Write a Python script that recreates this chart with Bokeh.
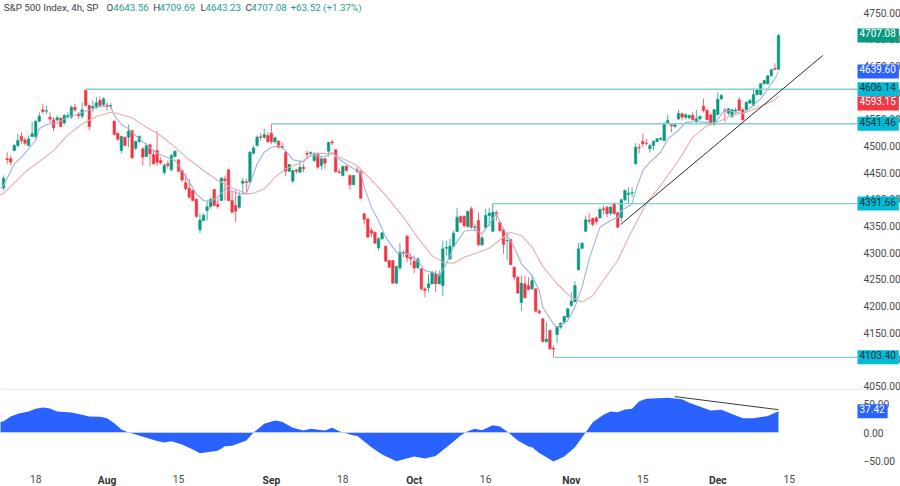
from bokeh.plotting import figure
from bokeh.layouts import column
from bokeh.models import ColumnDataSource, Range1d, FixedTicker, Label
from bokeh.embed import file_html
from bokeh.resources import INLINE

bar_start = -9
opens = [4421,4476,4476,4491.3,4500.6,4518,4511,4500.6,4517.5,
4517.5,4546.3,4567.5,4565,4553.8,4548.8,4548.8,4551.9,4543,4555,
4553.8,4572.5,4558.8,4555.6,4604,4575.6,4571.3,4573.8,4585,4577.5,
4576.3,4574.4,4546.3,4523.8,4491.3,4516.3,4516.3,4528.8,4495.6,4508,
4494.4,4480,4502,4483.8,4491.3,4472.5,4450,4466.3,4455,4480,
4473.8,4453.8,4431,4420.6,4416.3,4400,4342.5,4360,4378.8,4386.3,
4418,4390,4397.5,4438,4455,4397.5,4388,4385,4430,4432.5,
4432,4486,4500.6,4517,4516.3,4519.4,4523.8,4507.5,4508.8,4498.8,
4487.5,4452.5,4433.8,4455,4450.6,4460,4486,4486,4472.5,4485,
4463,4475.6,4490,4507.5,4492.5,4451.3,4444.4,4461.9,4444.4,4427.5,
4455,4452.5,4372.5,4363,4341.3,4338,4308.8,4325.6,4311.9,4285,
4285,4242.5,4271.3,4300,4330.6,4291.3,4283.8,4271.3,4269.4,4231.9,
4233.8,4241.3,4260,4241.3,4238,4308,4288,4311.3,4339.4,4367.5,
4367.5,4348.8,4381.9,4346.9,4360,4314.4,4346.3,4369.4,4340,4375,
4356.3,4342.5,4321.9,4324.4,4272.5,4253.8,4206.3,4241.3,4238,4231.9,
4231.9,4190,4175.6,4133,4153.8,4120.6,4146.3,4160,4169.4,4178.8,
4200.6,4208,4267.5,4307.5,4339.9,4360.9,4363.7,4365,4365.1,4382,
4384.9,4373.7,4392.4,4374.4,4365.6,4398.8,4408.8,4411.2,4466.3,4497.4,
4508.1,4505,4494.4,4500.6,4508.1,4512.4,4510,4543.8,4540,4536.3,
4550.3,4560,4553.7,4552.6,4557.4,4546.2,4550.7,4574.3,4566.3,4558.2,
4540,4558.8,4588.2,4567.2,4561.2,4555,4565.3,4586.3,4567.6,4567.6,
4580,4575.6,4596.3,4596.3,4616.3,4616.3,4631.3,4645,4643.56]

highs = [4444.4,4488,4481.9,4503.8,4522.5,4525.6,4516,4519.4,4544.4,
4547.5,4563,4578.8,4575.6,4563,4553.8,4556.9,4553.8,4560,4563,
4575.6,4578.8,4563,4581.9,4606.14,4577.5,4585,4591.3,4592.5,4591.3,
4581.9,4580,4547.5,4525.6,4519.4,4517.5,4540,4530,4510,4519.4,
4497.5,4505,4503.8,4491.3,4527.5,4478.8,4467.5,4472.5,4485,4491,
4475,4455,4447.5,4438,4418,4401,4372.5,4372.5,4397.5,4403.8,
4419.4,4400.6,4441,4444.4,4456.9,4416.3,4416.3,4413,4440,4438,
4490,4500.6,4519.4,4523.8,4532,4525.6,4541.46,4517.5,4511,4506.9,
4490,4466,4455,4456.9,4472.5,4466.3,4491,4490,4488,4488,
4478.8,4477.5,4507.5,4511.3,4493.8,4456.9,4463,4463,4446,4445.6,
4460,4453.8,4373.8,4365,4346.3,4339.4,4328.8,4338,4313,4286.3,
4286.3,4275,4317.5,4303.8,4333,4298.8,4294.4,4291.3,4270.6,4235,
4260,4266.3,4266.3,4266.3,4322.5,4322.5,4325.6,4341.3,4383.8,4369.4,
4369.4,4378.8,4386.3,4353.8,4375.6,4331.9,4381.9,4383.8,4391.66,4378.8,
4358.8,4344.4,4338,4325.6,4273.8,4255,4256.9,4256.9,4253.8,4256.9,
4233,4194.4,4177.5,4169.4,4155,4125.6,4162.5,4169.4,4181.3,4196.3,
4225.6,4246.3,4317.5,4319.3,4369.4,4373.7,4366.2,4367.5,4384.9,4388.1,
4388.1,4388.1,4393.8,4375.6,4401.3,4418,4421.9,4422.4,4504.9,4503.8,
4522.6,4513.2,4503.8,4510,4514.3,4516.2,4543.8,4558.8,4541.3,4542.4,
4567.6,4562.5,4560.6,4558.8,4563.1,4567.6,4556.9,4588.2,4570,4560,
4569.4,4600.6,4597.6,4571.3,4571.3,4569.4,4571.3,4591.2,4569.4,4583.1,
4588.2,4606.9,4606.9,4617.4,4623.8,4632.4,4644.4,4654.9,4709.69]

lows = [4416.3,4466,4463,4490,4497.5,4503.8,4500.6,4498.8,4516.3,
4513,4544.4,4560,4558.8,4542.5,4527.5,4544.4,4535,4540,4550.6,
4550.6,4563,4550.6,4550.6,4574,4528.8,4563,4569.4,4572.5,4573.8,
4566,4569.4,4519.4,4508.8,4486.3,4499.4,4497.5,4475.6,4491.3,4505,
4463,4478.8,4461,4465,4463,4465,4445,4457,4452.5,4478.8,
4450.6,4431.9,4416.3,4400.6,4396.3,4365,4336,4358.8,4360,4381.9,
4386.3,4381.9,4396.3,4397.5,4395.6,4373.8,4356.9,4381.9,4410,4413,
4430,4483.8,4498.8,4510,4513,4506,4503.8,4503.8,4496.3,4494.4,
4442.5,4450.6,4431,4447.5,4448.8,4450.6,4477.5,4481.9,4469.4,4456.9,
4455,4456.9,4480,4500.6,4450,4447.5,4442.5,4450.6,4417.5,4425.6,
4448.8,4400.6,4352.5,4327.5,4328.8,4316.3,4303.8,4323.8,4281.9,4270.6,
4241.3,4240,4266.3,4291.3,4281.9,4275.6,4261.3,4269.4,4228.8,4216.3,
4225.6,4240,4225.6,4240,4219.4,4294.4,4286.3,4310,4338,4355,
4347.5,4346.3,4344.4,4339.4,4312.5,4312.5,4344.4,4348.8,4338,4358.8,
4338,4297.5,4286.3,4275.6,4247.5,4222.5,4190,4213.8,4230,4230,
4188,4183.8,4131.9,4131.3,4117.5,4103.4,4130,4156.9,4165,4177.5,
4198.8,4206.3,4266.3,4307,4338.8,4353.8,4348.7,4352.5,4363.2,4371.3,
4366.2,4369.4,4371.3,4345.6,4358,4395.6,4391.9,4403.7,4465,4486.2,
4497.4,4500.6,4488,4491.3,4506.8,4510,4508.7,4542.4,4525.6,4533.8,
4548.8,4547.5,4549.4,4549.4,4547.5,4541.3,4547.5,4563.1,4547.5,4538.1,
4538.1,4556.9,4586.3,4544.3,4556.9,4552.6,4560,4565,4546.2,4566.3,
4578.8,4573.8,4594.4,4594.4,4615,4615,4630,4642,4643.23]

closes = [4439.4,4474,4469.4,4500.6,4510,4510,4505,4513,4522.5,
4546.3,4555.6,4564.4,4566,4550,4533.8,4552.5,4536.3,4556.9,4556.9,
4572.5,4567.5,4556.3,4567.5,4575.6,4536.3,4573.8,4580.6,4575.6,4588,
4574.4,4575.6,4521.3,4512.5,4517.5,4500.6,4527.5,4477.5,4508,4518,
4478.8,4500.6,4485,4466.3,4469.4,4468,4463.8,4463,4481.9,4490,
4452.5,4436,4419.4,4403.8,4397.5,4367.5,4361,4370,4386,4399.4,
4388,4386.3,4439.4,4435,4397.5,4375.6,4377.5,4406,4433.8,4431.3,
4488,4496,4516.3,4515.6,4521,4507.5,4507.5,4515,4497.5,4496.3,
4452.5,4465,4453.8,4452.5,4460,4456.9,4484,4487.5,4485,4460,
4475.6,4467.5,4506.3,4505.6,4451.3,4450,4461.3,4453.8,4426.9,4444.4,
4452.5,4401.9,4362.5,4328.8,4336.3,4317.5,4325.6,4336.9,4283.8,4272.5,
4242.5,4273.8,4300.6,4298.8,4290,4288,4270.6,4288,4231.9,4228.8,
4241.3,4263,4241.3,4258.8,4306.9,4309.4,4311.9,4336.3,4366.3,4356.9,
4350,4376.9,4347.5,4348.1,4314.4,4327.5,4369.4,4373.8,4375.6,4372.5,
4341.3,4315,4323.1,4277.5,4253.8,4223.8,4242.5,4215,4230.6,4247.5,
4190,4186.9,4133,4137.5,4119.4,4118.8,4161.3,4167.5,4180,4194.4,
4208.8,4238,4306.9,4317.4,4361.3,4358.7,4352.5,4358,4380.6,4380,
4372.6,4384.9,4372.6,4347.4,4398.8,4416.3,4411.2,4412.5,4497.4,4496.3,
4503.8,4503.8,4500.6,4508.7,4513.2,4514.3,4542.4,4547.5,4537.6,4540,
4560.6,4553.7,4558.2,4556.9,4548.8,4550.7,4555,4566.3,4548.8,4540,
4567.6,4587.4,4594.4,4565.3,4569.4,4567.6,4567.2,4566.3,4548.8,4581.8,
4585,4596.3,4605.1,4616.3,4622.5,4631.3,4642.6,4643,4707.08]

fast_bars = [-10,-9,-6,-4,0,1,3,6,9,11,13,18,21,22,24,26,28,31,34,37,39,41,43,45,47,49,51,53,55,57,59,60,62,64,66,68,70,72,
             75,77,81,83,84,87,89,91,92,94,96,98,101,104,107,109,112,113,115,117,120,123,125,127,129,131,134,136,139,141,142,145,146,149,151,153,
             155,158,161,163,164,167,168,170,172,175,177,180,182,185,188,190,193,196,198,200,203,205,207,208]
fast_vals = [4419,4425.6,4466,4478.8,4510,4532,4540,4542.5,4553.8,4558,4563,4573.8,4573.8,4557,4540,4532,4519,4502,4486,4477.5,4472.5,4454,4432,4410,4397.5,4395.6,4404,4419.4,4415,4410,4410,4428.8,4466,4488,4497.5,4500.6,4491,4474,
             4469.4,4482,4479,4488,4479,4466,4456.9,4450.6,4422.5,4385,4360,4328.8,4300.6,4297.5,4285,4266,4261,4257,4278.8,4310,4340,4342.5,4335,4353.8,4372.5,4344,4310,4278.8,4257,4228.8,4197.5,4166,4160,4172.5,4197.5,4235,
             4288,4347.5,4360,4366,4378.8,4391,4416,4453.8,4469,4488,4513,4528.8,4544,4545.6,4544,4541,4567.5,4563,4560,4571,4588,4607,4625.6,4639.60]

slow_bars = [-10,-9,-6,-3,1,5,9,13,17,21,23,27,31,35,39,43,47,51,55,59,61,64,67,70,73,
             74,77,80,83,85,90,94,98,103,107,111,114,117,120,124,127,131,133,136,139,142,146,150,153,
             156,159,163,166,171,175,180,184,188,192,195,199,203,207,208]
slow_vals = [4407,4411,4430,4450.6,4470.6,4491,4520.6,4541,4555,4563,4560,4552.5,4535,4519.4,4497.5,4473.8,4453.8,4435,4421,4410,4411,4419.4,4441,4457,4465,
             4469,4482,4486,4485,4479,4463,4436,4407,4366,4327.5,4294,4282,4280,4291,4300.6,4308,4329,4338,4332,4310,4274,4241,4216,4207,
             4219,4248,4285,4328,4392,4425.6,4472.5,4516,4538,4547.5,4557,4563,4573.8,4586,4593.15]

osc_bars = [-10,-9,-7,-5,-2,0,2,4,6,10,13,15,18,20,22,24,26,28,31,34,36,38,41,44,46,51,53,55,59,61,64,67,69,72,75,77,81,83,85,89,90,94,97,101,106,109,112,116,
            119,121,123,125,128,130,132,135,138,139,141,145,148,151,154,156,159,161,163,165,167,169,171,177,181,183,189,192,198,201,205,208]
osc_vals = [18,19.9,28,32.8,36.9,41.5,43.9,42,36.9,35,31,28,27.5,25,16.4,5.3,0,-3.5,-9.4,-15,-17.6,-15.2,-21,-30,-36.3,-32,-24,-23.4,-14,0,15.2,21,18.7,8.2,3.5,6.4,3.5,8.2,2.3,-5.3,-5.9,-25.7,-38.6,-50.3,-42,-45.6,-41,-21,
            -5.3,2.3,6.4,4,12.9,10.5,1.8,-14,-24.6,-25.7,-36,-51,-42,-25.7,0,18,31,36.9,35.7,40.4,41.5,55,59,60.8,58.5,52,38.6,39.8,25,25,29,37.42]

level_values = [4606.14, 4541.46, 4391.66, 4103.40]
level_starts = [14, 66, 128, 145]
trend_bars = [163.8, 220.4]
trend_prices = [4352.5, 4669.4]
osc_trend_bars = [179, 208]
osc_trend_vals = [63, 40]

price_ticks = [4050,4100,4150,4200,4250,4300,4350,4400,4450,4500,4550,4600,4650,4700,4750]
osc_ticks = [-50, 0, 50]
day_ticks = [0, 40, 86, 126, 170, 211]
day_labels = ["18", "15", "18", "16", "15", "15"]
month_ticks = [20, 66, 106, 150, 191]
month_labels = ["Aug", "Sep", "Oct", "Nov", "Dec"]

# price-scale tags: text and the height at which each sits on the scale
tag_texts = ["4707.08", "4639.60", "4606.14", "4593.15", "4541.46", "4391.66", "4103.40"]
tag_prices = [4707.08, 4639.60, 4606.14, 4579.4, 4541.46, 4391.66, 4103.40]
tag_fills = ["#089981", "#2962FF", "#00BCD4", "#F23645", "#00BCD4", "#00BCD4", "#00BCD4"]
tag_inks = ["#ffffff", "#ffffff", "#2a2e39", "#ffffff", "#2a2e39", "#2a2e39", "#2a2e39"]

FONT = "Roboto"
UP, DOWN = "#089981", "#F23645"
BAR_MIN, BAR_MAX, SCALE_EDGE = -9.857, 242.17, 230.1
PRICE_MIN, PRICE_MAX, SEPARATOR = 4031.9, 4772.5, 4043.6
OSC_MIN, OSC_MAX = -94.7, 64.9
x_range = Range1d(BAR_MIN, BAR_MAX)

bars = list(range(bar_start, bar_start + len(opens)))
colors = [UP if c >= o else DOWN for o, c in zip(opens, closes)]
src = ColumnDataSource(dict(x=bars, o=opens, h=highs, l=lows, c=closes, color=colors))

p = figure(frame_width=900, frame_height=395, x_range=x_range, y_range=Range1d(PRICE_MIN, PRICE_MAX),
           output_backend="svg", toolbar_location=None, x_axis_location=None, y_axis_location="right",
           min_border=0, outline_line_color=None, background_fill_color="white")
p.grid.visible = False

def style_y(ax, ticks):
    ax.ticker = FixedTicker(ticks=ticks)
    ax.fixed_location = SCALE_EDGE
    ax.axis_line_color = None
    ax.major_tick_line_color = None
    ax.minor_tick_line_color = None
    ax.major_label_standoff = 0
    ax.major_label_text_font = FONT
    ax.major_label_text_font_size = "10.3px"
    ax.major_label_text_color = "#4a4a4a"

style_y(p.yaxis[0], price_ticks)
p.yaxis[0].major_label_overrides = {t: f"{t:.2f}" for t in price_ticks}

p.segment("x", "h", "x", "l", source=src, color="color", line_width=1, line_alpha=0.75)
p.vbar("x", 0.72, "o", "c", source=src, fill_color="color", line_color="color", line_width=0.5)
p.line(fast_bars, fast_vals, line_color="#9db3dc", line_width=1.1)
p.line(slow_bars, slow_vals, line_color="#e5adad", line_width=1.1)
p.segment(level_starts, level_values, [SCALE_EDGE] * 4, level_values, line_color="#7fd0d4", line_width=1.4)
p.line(trend_bars, trend_prices, line_color="#2b2b2b", line_width=1)
p.segment(BAR_MIN, SEPARATOR, SCALE_EDGE + 1.7, SEPARATOR, line_color="#e3e5ea", line_width=1)

def tag(fig, text, y, bg, fg):
    fig.add_layout(Label(x=857, x_units="screen", y=y, y_units="data", text=text, text_font=FONT,
                         text_font_size="10px", text_color=fg, text_baseline="middle",
                         background_fill_color=bg, padding=(2, 3, 1, 5)))

for text, y, bg, fg in zip(tag_texts, tag_prices, tag_fills, tag_inks):
    tag(p, text, y, bg, fg)

header = [("S&P 500 Index, 4h, SP", 3.3, "#3a3e48"), ("O", 106, "#3a3e48"), ("4643.56", 112.7, "#22a08c"),
          ("H", 152.7, "#3a3e48"), ("4709.69", 159, "#22a08c"), ("L", 200, "#3a3e48"), ("4643.23", 205, "#22a08c"),
          ("C", 245, "#3a3e48"), ("4707.08", 250.7, "#22a08c"), ("+63.52 (+1.37%)", 290, "#22a08c")]
for text, x, col in header:
    p.add_layout(Label(x=x, x_units="screen", y=4759.4, y_units="data", text=text, text_font=FONT,
                       text_font_size="9.8px", text_color=col, text_baseline="middle"))

q = figure(frame_width=900, frame_height=91, x_range=x_range, y_range=Range1d(OSC_MIN, OSC_MAX),
           output_backend="svg", toolbar_location=None, y_axis_location="right",
           min_border=0, outline_line_color=None, background_fill_color="white")
q.grid.visible = False
style_y(q.yaxis[0], osc_ticks)
q.yaxis[0].major_label_overrides = {-50: "\u221250.00", 0: "0.00", 50: "50.00"}

ax = q.xaxis[0]
ax.ticker = FixedTicker(ticks=day_ticks)
ax.major_label_overrides = dict(zip(day_ticks, day_labels))
ax.fixed_location = -59
ax.axis_line_color = None
ax.major_tick_line_color = None
ax.minor_tick_line_color = None
ax.major_label_standoff = 3
ax.major_label_text_font = FONT
ax.major_label_text_font_size = "10.3px"
ax.major_label_text_color = "#4a4a4a"

q.varea(osc_bars, osc_vals, [0] * len(osc_bars), fill_color="#2962FF")
q.line([BAR_MIN, osc_bars[-1]], [0, 0], line_color="#b9cdf5", line_width=1)
q.line(osc_trend_bars, osc_trend_vals, line_color="#3a3a3a", line_width=1)

for x, text in zip(month_ticks, month_labels):
    q.add_layout(Label(x=x, y=-84, text=text, text_font=FONT, text_font_size="10.3px", text_font_style="bold",
                       text_color="#333333", text_align="center", text_baseline="middle"))

tag(q, "37.42", 37.42, "#2962FF", "#ffffff")

page = column(p, q, spacing=0)
open("out.html", "w").write(file_html(page, INLINE))
